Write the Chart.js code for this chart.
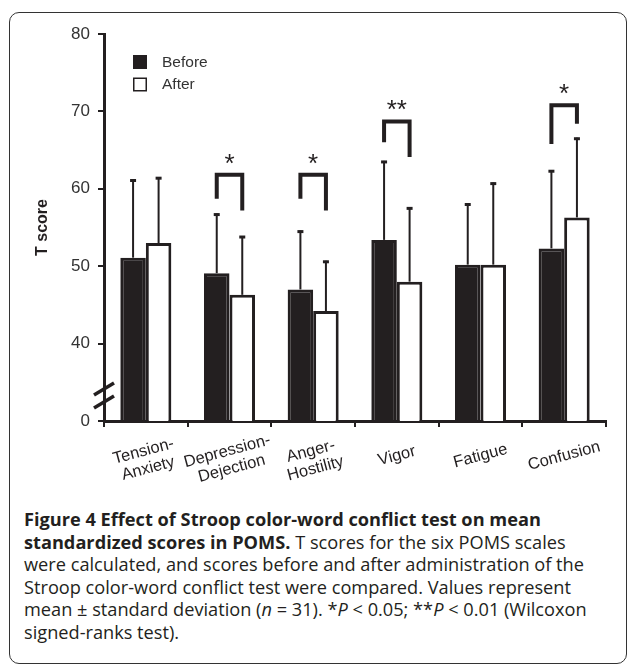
<!DOCTYPE html>
<html>
<head>
<meta charset="utf-8">
<script src="https://cdn.jsdelivr.net/npm/chart.js@4.4.1/dist/chart.umd.min.js"></script>
<style>
  html, body { margin: 0; padding: 0; background: #fff; }
  body { width: 629px; height: 669px; position: relative; overflow: hidden; }
  .card { position: absolute; left: 9px; top: 12px; width: 618px; height: 652px; border: 1.5px solid #333; border-radius: 10px; box-sizing: border-box; }
  .plot { position: absolute; left: 0; top: 0; width: 629px; height: 500px; }
  .caption { position: absolute; left: 24px; top: 508px; font-family: 'Open Sans', sans-serif; font-size: 18.2px; line-height: 22.6px; color: #231f20; white-space: nowrap; }
  .caption b { font-weight: 700; }
</style>
</head>
<body>
<div class="card"></div>
<div class="plot"><canvas id="poms"></canvas></div>
<div class="caption">
  <b>Figure 4 Effect of Stroop color-word conflict test on mean</b><br>
  <b>standardized scores in POMS.</b> T scores for the six POMS scales<br>
  were calculated, and scores before and after administration of the<br>
  Stroop color-word conflict test were compared. Values represent<br>
  mean ± standard deviation (<i>n</i> = 31). *<i>P</i> &lt; 0.05; **<i>P</i> &lt; 0.01 (Wilcoxon<br>
  signed-ranks test).
</div>
<script>
// values
const categories = [['Tension-', 'Anxiety'], ['Depression-', 'Dejection'], ['Anger-', 'Hostility'], 'Vigor', 'Fatigue', 'Confusion'];
const beforeMean = [51.1, 49.1, 47.0, 53.4, 50.2, 52.3];
const afterMean = [53.0, 46.3, 44.2, 48.0, 50.2, 56.3];
const beforeSD = [10.1, 7.7, 7.6, 10.2, 7.9, 10.1];
const afterSD = [8.5, 7.6, 6.5, 9.6, 10.6, 10.3];

// significance brackets (in T-score units), '' = none
const sigMarks = ['', '*', '*', '**', '', '*'];
const bracketTop = [null, 61.8, 61.8, 68.7, null, 70.8];
const bracketLeftEnd = [null, 58.7, 58.7, 66.0, null, 65.8];
const bracketRightEnd = [null, 57.2, 57.2, 64.1, null, 68.4];

// axis is broken: everything below 30 is shown as "0"
const yTicks = [30, 40, 50, 60, 70, 80];
const yTickLabels = ['0', '40', '50', '60', '70', '80'];

const INK = '#231f20';

const errorBars = {
    id: 'errorBars',
    afterDatasetsDraw(chart) {
        const { ctx, scales: { y } } = chart;
        const sds = [beforeSD, afterSD];
        const means = [beforeMean, afterMean];
        ctx.save();
        ctx.strokeStyle = INK;
        sds.forEach((sd, d) => {
            chart.getDatasetMeta(d).data.forEach((bar, i) => {
                const yTop = y.getPixelForValue(means[d][i] + sd[i]);
                ctx.lineWidth = 2;
                ctx.beginPath();
                ctx.moveTo(bar.x, bar.y);
                ctx.lineTo(bar.x, yTop);
                ctx.stroke();
                ctx.lineWidth = 3;
                ctx.beginPath();
                ctx.moveTo(bar.x - 3, yTop + 1);
                ctx.lineTo(bar.x + 3, yTop + 1);
                ctx.stroke();
            });
        });
        ctx.restore();
    }
};

const brackets = {
    id: 'brackets',
    afterDatasetsDraw(chart) {
        const { ctx, scales: { y } } = chart;
        const b = chart.getDatasetMeta(0).data;
        const a = chart.getDatasetMeta(1).data;
        ctx.save();
        ctx.strokeStyle = INK;
        ctx.fillStyle = INK;
        ctx.lineWidth = 4;
        ctx.lineJoin = 'miter';
        ctx.font = '26px Arial';
        ctx.textAlign = 'center';
        ctx.textBaseline = 'alphabetic';
        sigMarks.forEach((mark, i) => {
            if (!mark) return;
            const x1 = b[i].x, x2 = a[i].x;
            const top = y.getPixelForValue(bracketTop[i]);
            ctx.beginPath();
            ctx.moveTo(x1, y.getPixelForValue(bracketLeftEnd[i]));
            ctx.lineTo(x1, top);
            ctx.lineTo(x2, top);
            ctx.lineTo(x2, y.getPixelForValue(bracketRightEnd[i]));
            ctx.stroke();
            ctx.fillText(mark, (x1 + x2) / 2, top - 3);
        });
        ctx.restore();
    }
};

const axisBreak = {
    id: 'axisBreak',
    afterDraw(chart) {
        const { ctx, scales: { y } } = chart;
        const x0 = y.right;
        const yMid = y.getPixelForValue(33.3);
        ctx.save();
        ctx.strokeStyle = INK;
        ctx.lineWidth = 3.5;
        [-6.5, 6.5].forEach(off => {
            ctx.beginPath();
            ctx.moveTo(x0 - 10, yMid + off + 6);
            ctx.lineTo(x0 + 10, yMid + off - 6);
            ctx.stroke();
        });
        ctx.restore();
    }
};

const xLabels = {
    id: 'xLabels',
    afterDraw(chart) {
        const { ctx, scales: { x } } = chart;
        ctx.save();
        ctx.font = '16.5px Arial';
        ctx.fillStyle = INK;
        ctx.textAlign = 'center';
        ctx.textBaseline = 'middle';
        categories.forEach((lab, i) => {
            const lines = Array.isArray(lab) ? lab : [lab];
            ctx.save();
            ctx.translate(x.getPixelForValue(i), x.top + 35 + (lines.length - 1) * 4);
            ctx.rotate(-15 * Math.PI / 180);
            lines.forEach((t, j) => ctx.fillText(t, 0, (j - (lines.length - 1) / 2) * 18));
            ctx.restore();
        });
        ctx.restore();
    }
};

const boxLegend = {
    id: 'boxLegend',
    afterDraw(chart) {
        const { ctx, chartArea } = chart;
        const left = chartArea.left + 29, top = chartArea.top + 21;
        ctx.save();
        ctx.font = '15.5px Arial';
        ctx.textBaseline = 'middle';
        chart.data.datasets.forEach((ds, i) => {
            const yy = top + i * 22.5;
            ctx.fillStyle = ds.backgroundColor;
            ctx.fillRect(left, yy, 14, 14);
            ctx.strokeStyle = INK;
            ctx.lineWidth = 1.5;
            ctx.strokeRect(left + 0.75, yy + 0.75, 12.5, 12.5);
            ctx.fillStyle = '#333';
            ctx.fillText(ds.label, left + 29, yy + 7.5);
        });
        ctx.restore();
    }
};

new Chart(document.getElementById('poms'), {
    type: 'bar',
    data: {
        labels: categories,
        datasets: [
            { label: 'Before', data: beforeMean, backgroundColor: INK, borderColor: INK, borderWidth: 3 },
            { label: 'After', data: afterMean, backgroundColor: '#ffffff', borderColor: INK, borderWidth: 3 }
        ]
    },
    options: {
        responsive: true,
        maintainAspectRatio: false,
        animation: false,
        categoryPercentage: 0.61,
        barPercentage: 1.0,
        layout: { padding: { left: 0, right: 23, top: 34, bottom: 19 } },
        plugins: { legend: { display: false }, tooltip: { enabled: false } },
        scales: {
            x: {
                grid: { drawOnChartArea: false, color: INK, lineWidth: 2, tickLength: 6, offset: true },
                border: { color: INK, width: 3 },
                ticks: { display: false },
                afterFit: s => { s.height = 60; }
            },
            y: {
                min: 30,
                max: 80,
                afterBuildTicks: s => { s.ticks = yTicks.map(v => ({ value: v })); },
                grid: { drawOnChartArea: false, color: INK, lineWidth: 2, tickLength: 6 },
                border: { color: INK, width: 3 },
                ticks: {
                    padding: 8,
                    color: '#333',
                    font: { family: 'Arial', size: 17 },
                    callback: (v) => yTickLabels[yTicks.indexOf(v)]
                },
                title: {
                    display: true,
                    text: 'T score',
                    color: INK,
                    font: { family: 'Arial', size: 16, weight: 'bold' },
                    padding: { top: 33, bottom: 0 }
                },
                afterFit: s => { s.width = 104; }
            }
        }
    },
    plugins: [errorBars, brackets, axisBreak, xLabels, boxLegend]
});
</script>
</body>
</html>
